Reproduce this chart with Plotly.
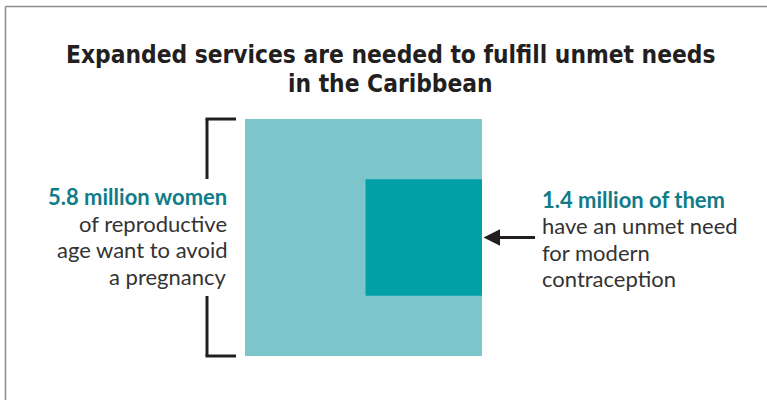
import math
import plotly.graph_objects as go

# ---------------- data ----------------
categories = ["Women of reproductive age who want to avoid a pregnancy",
              "Women with an unmet need for modern contraception"]
values_millions = [5.8, 1.4]
headline_labels = ["5.8 million women", "1.4 million of them"]
detail_left = ["of reproductive", "age want to avoid", "a pregnancy"]
detail_right = ["have an unmet need", "for modern", "contraception"]
title_lines = ["Expanded services are needed to fulfill unmet needs", "in the Caribbean"]

# ---------------- styling / layout ----------------
W, H = 767, 400
PX = 98.4            # pixels per sqrt(million) unit
ORIGIN_X, ORIGIN_Y = 245, 356   # pixel position of data (0,0)
LIGHT = "#7cc5ca"
DARK = "#00a0a6"
TEAL_TXT = "#0f7c88"
INK = "#231f20"
BODY = "#333333"
TITLE_FONT = "DejaVu Sans Condensed, DejaVu Sans, sans-serif"
BODY_FONT = "Lato, Open Sans, sans-serif"

def px_x(p):
    return p / W

def px_y(p):
    return 1 - p / H

s_big = math.sqrt(values_millions[0])
s_small = math.sqrt(values_millions[1])

fig = go.Figure()

# big square (area proportional to 5.8 million)
fig.add_trace(go.Scatter(
    x=[0, s_big, s_big, 0, 0], y=[0, 0, s_big, s_big, 0],
    fill="toself", fillcolor=LIGHT, mode="lines", line=dict(width=0),
    name=categories[0], hoverinfo="name"))
# small square (area proportional to 1.4 million), right-aligned, vertically centred
x0 = s_big - s_small
y0 = (s_big - s_small) / 2
fig.add_trace(go.Scatter(
    x=[x0, s_big, s_big, x0, x0], y=[y0, y0, y0 + s_small, y0 + s_small, y0],
    fill="toself", fillcolor=DARK, mode="lines", line=dict(width=0),
    name=categories[1], hoverinfo="name"))

# bracket on the left of the big square
bx = -38 / PX
bx_end = -9 / PX
arm = 60 / PX
shapes = [
    dict(type="line", xref="x", yref="y", x0=bx, x1=bx, y0=s_big, y1=s_big - arm,
         line=dict(color=INK, width=3)),
    dict(type="line", xref="x", yref="y", x0=bx - 1.5 / PX, x1=bx_end, y0=s_big, y1=s_big,
         line=dict(color=INK, width=3)),
    dict(type="line", xref="x", yref="y", x0=bx, x1=bx, y0=0, y1=arm,
         line=dict(color=INK, width=3)),
    dict(type="line", xref="x", yref="y", x0=bx - 1.5 / PX, x1=bx_end, y0=0, y1=0,
         line=dict(color=INK, width=3)),
    # frame
    dict(type="line", xref="paper", yref="paper", x0=px_x(5.5), x1=1, y0=px_y(6.5), y1=px_y(6.5),
         line=dict(color="#8c8c8c", width=1.5)),
    dict(type="line", xref="paper", yref="paper", x0=px_x(5.5), x1=px_x(5.5), y0=px_y(6.5), y1=0,
         line=dict(color="#8c8c8c", width=1.5)),
]

ann = []
# title
for i, t in enumerate(title_lines):
    ann.append(dict(text=t, xref="paper", yref="paper", x=px_x(391), y=px_y(55 + 28 * i),
                    xanchor="center", yanchor="middle", showarrow=False,
                    font=dict(family=TITLE_FONT, size=24.3, color=INK, weight="bold")))

# left labels
ann.append(dict(text=headline_labels[0], xref="paper", yref="paper", x=px_x(229), y=px_y(196),
                xanchor="right", yanchor="middle", showarrow=False,
                font=dict(family=BODY_FONT, size=22, color=TEAL_TXT, weight="bold")))
for i, t in enumerate(detail_left):
    ann.append(dict(text=t, xref="paper", yref="paper", x=px_x(229), y=px_y(223 + 26.5 * i),
                    xanchor="right", yanchor="middle", showarrow=False,
                    font=dict(family=BODY_FONT, size=22, color=BODY)))

# right labels
ann.append(dict(text=headline_labels[1], xref="paper", yref="paper", x=px_x(540), y=px_y(199),
                xanchor="left", yanchor="middle", showarrow=False,
                font=dict(family=BODY_FONT, size=22, color=TEAL_TXT, weight="bold")))
for i, t in enumerate(detail_right):
    ann.append(dict(text=t, xref="paper", yref="paper", x=px_x(540), y=px_y(226 + 26 * i),
                    xanchor="left", yanchor="middle", showarrow=False,
                    font=dict(family=BODY_FONT, size=22, color=BODY)))

# arrow pointing at the small square
ann.append(dict(x=s_big + 1.5 / PX, y=s_big / 2, xref="x", yref="y", text="",
                showarrow=True, arrowhead=2, arrowsize=1.1, arrowwidth=3, arrowcolor=INK,
                ax=53, ay=0, axref="pixel", ayref="pixel"))

fig.update_layout(
    width=W, height=H, margin=dict(l=0, r=0, t=0, b=0),
    paper_bgcolor="white", plot_bgcolor="white", showlegend=False,
    xaxis=dict(range=[-ORIGIN_X / PX, (W - ORIGIN_X) / PX], visible=False, fixedrange=True),
    yaxis=dict(range=[-(H - ORIGIN_Y) / PX, ORIGIN_Y / PX], visible=False, fixedrange=True),
    shapes=shapes, annotations=ann,
)

fig.write_html("out.html", config=dict(displayModeBar=False),
               post_script="document.body.style.margin='0';")
